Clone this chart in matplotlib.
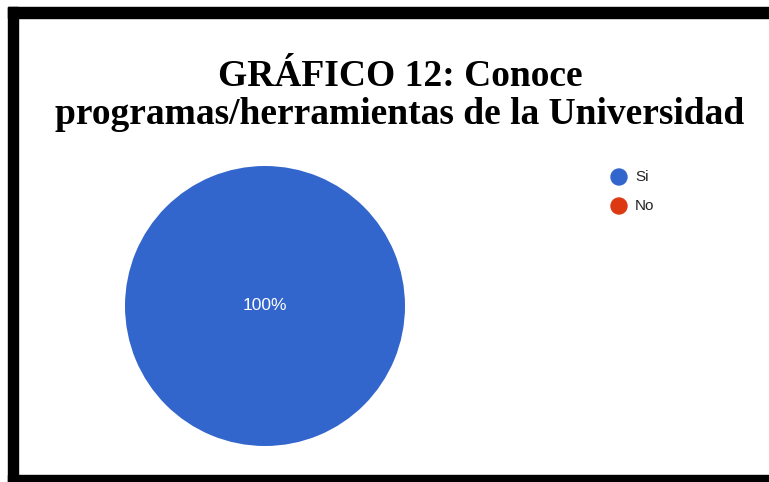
import matplotlib
matplotlib.use("Agg")
import matplotlib.pyplot as plt
from matplotlib.patches import Rectangle, Ellipse

labels = ["Si", "No"]
values = [100, 0]
colors = ["#3366cc", "#dc3912"]
title_lines = ["GRÁFICO 12: Conoce", "programas/herramientas de la Universidad"]

W, H = 769, 482
fig = plt.figure(figsize=(W/100, H/100), dpi=100)
fig.patch.set_facecolor("white")

# border frame (top, left, bottom)
fig.patches.append(Rectangle((8/W, 0), 10/W, (H-7)/H, transform=fig.transFigure, color="black", zorder=0))
fig.patches.append(Rectangle((8/W, (H-18)/H), 1, 11/H, transform=fig.transFigure, color="black", zorder=0))
fig.patches.append(Rectangle((8/W, 0), 1, 7/H, transform=fig.transFigure, color="black", zorder=0))

# title
fig.text(400/W, 1-76/H, title_lines[0], ha="center", va="center",
         fontsize=27, fontweight="bold", family="Liberation Serif")
fig.text(400/W, 1-115/H, title_lines[1], ha="center", va="center",
         fontsize=27, fontweight="bold", family="Liberation Serif")

# pie
cx, cy, r = 265, 306, 140
ax = fig.add_axes([(cx-r)/W, (H-cy-r)/H, 2*r/W, 2*r/H])
total = sum(values)
wedges, texts = ax.pie(values, colors=colors, startangle=90, counterclock=False,
                       radius=1.0, wedgeprops=dict(linewidth=0))
ax.set_xlim(-1, 1); ax.set_ylim(-1, 1)
ax.set_aspect("equal")
ax.axis("off")
for v, w in zip(values, wedges):
    if v > 0 and v == total:
        ax.text(0, 0, f"{v/total*100:.0f}%", ha="center", va="center",
                color="white", fontsize=12.5, family="Liberation Sans")

# legend
for i, (lab, col) in enumerate(zip(labels, colors)):
    y = 1 - (177 + i*29)/H
    fig.patches.append(Ellipse((619/W, y), 16/W, 16/H,
                       transform=fig.transFigure, color=col))
    fig.text(635/W, y, lab, ha="left", va="center", fontsize=11,
             family="Liberation Sans", color="#222222")

fig.savefig("out.png", dpi=100)
